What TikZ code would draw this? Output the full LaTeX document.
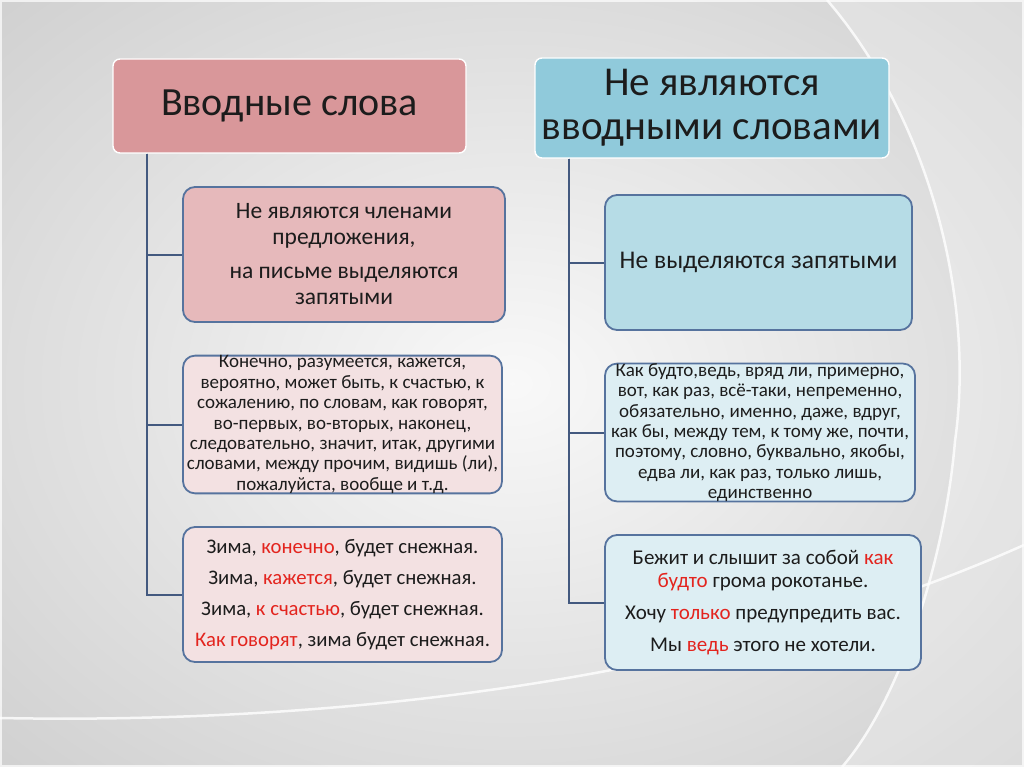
\documentclass[tikz,border=0pt]{standalone}
\usepackage{fontspec}
\setmainfont{Carlito}
\definecolor{hdrred}{HTML}{D9979A}
\definecolor{hdrblue}{HTML}{90CADB}
\definecolor{boxred}{HTML}{E6B9BB}
\definecolor{boxredl}{HTML}{F3E1E2}
\definecolor{boxblue}{HTML}{B6DCE6}
\definecolor{boxbluel}{HTML}{DDEEF3}
\definecolor{edge}{HTML}{56739E}
\definecolor{conn}{HTML}{43597F}
\definecolor{redtxt}{HTML}{E3241E}
\definecolor{txt}{HTML}{1C1C1C}
\newcommand{\rd}[1]{\textcolor{redtxt}{#1}}
\tikzset{
  hdr/.style={rounded corners=7pt, draw=white, line width=1.4pt, text=txt, align=center, inner sep=0pt},
  cbox/.style={rounded corners=12pt, draw=edge, line width=1.8pt, text=txt, align=center, inner xsep=0pt, inner ysep=0pt},
  cline/.style={draw=conn, line width=2pt},
}
\begin{document}
\begin{tikzpicture}[x=1pt,y=-1pt]
\useasboundingbox (0,0) rectangle (1024,767);
% background
\shade[inner color=gray!5, outer color=gray!36] (-200,-150) rectangle (1224,917);
\fill[white, opacity=0.25] (827,0) .. controls (930,120) and (975,300) .. (955,441) .. controls (945,560) and (900,700) .. (842,767) -- (1024,767) -- (1024,0) -- cycle;
\draw[white, line width=2.5pt, opacity=0.8] (827,0) .. controls (930,120) and (975,300) .. (955,441) .. controls (945,560) and (900,700) .. (842,767);
\draw[white, line width=2.5pt, opacity=0.8] (0,718) .. controls (300,724) and (700,690) .. (1024,545);
\draw[white, line width=1.5pt, opacity=0.7] (1,1) rectangle (1023,766);
% headers
\node[hdr, fill=hdrred, minimum width=353pt, minimum height=94pt, font=\fontsize{40}{44}\selectfont] (h1) at (289.5,106) {Вводные слова};
\node[hdr, fill=hdrblue, minimum width=354pt, minimum height=100pt, font=\fontsize{41}{43}\selectfont] (h2) at (712,108) {Не являются\\[1pt]вводными словами};
% left boxes
\node[cbox, fill=boxred, minimum width=322pt, minimum height=135pt, font=\fontsize{23.5}{26}\selectfont] (l1) at (344,254.5)
  {Не являются членами\\предложения,\\[8pt]на письме выделяются\\запятыми};
\node[cbox, fill=boxredl, minimum width=319pt, minimum height=135pt, font=\fontsize{19}{20.4}\selectfont] (l2) at (342.5,424.5)
  {Конечно, разумеется, кажется,\\вероятно, может быть, к счастью, к\\сожалению, по словам, как говорят,\\во-первых, во-вторых, наконец,\\следовательно, значит, итак, другими\\словами, между прочим, видишь (ли),\\пожалуйста, вообще и т.д.};
\node[cbox, fill=boxredl, minimum width=319pt, minimum height=135pt, font=\fontsize{20.7}{31}\selectfont] (l3) at (342.5,594.5)
  {Зима, \rd{конечно}, будет снежная.\\Зима, \rd{кажется}, будет снежная.\\Зима, \rd{к счастью}, будет снежная.\\\rd{Как говорят}, зима будет снежная.};
% right boxes
\node[cbox, fill=boxblue, minimum width=307pt, minimum height=135pt, font=\fontsize{25.5}{28}\selectfont] (r1) at (758.5,262.5)
  {Не выделяются запятыми};
\node[cbox, fill=boxbluel, minimum width=310pt, minimum height=135pt, font=\fontsize{19}{20.3}\selectfont] (r2) at (760,432.5)
  {Как будто,ведь, вряд ли, примерно,\\вот, как раз, всё-таки, непременно,\\обязательно, именно, даже, вдруг,\\как бы, между тем, к тому же, почти,\\поэтому, словно, буквально, якобы,\\едва ли, как раз, только лишь,\\единственно};
\node[cbox, fill=boxbluel, minimum width=316pt, minimum height=135pt, font=\fontsize{21}{23}\selectfont] (r3) at (763,602.5)
  {Бежит и слышит за собой \rd{как}\\\rd{будто} грома рокотанье.\\[9pt]Хочу \rd{только} предупредить вас.\\[9pt]Мы \rd{ведь} этого не хотели.};
% connectors
\coordinate (lt) at ([xshift=35pt]h1.south west);
\coordinate (rt) at ([xshift=35pt]h2.south west);
\draw[cline] (lt) |- (l1.west);
\draw[cline] (lt) |- (l2.west);
\draw[cline] (lt) |- (l3.west);
\draw[cline] (rt) |- (r1.west);
\draw[cline] (rt) |- (r2.west);
\draw[cline] (rt) |- (r3.west);
\end{tikzpicture}
\end{document}
